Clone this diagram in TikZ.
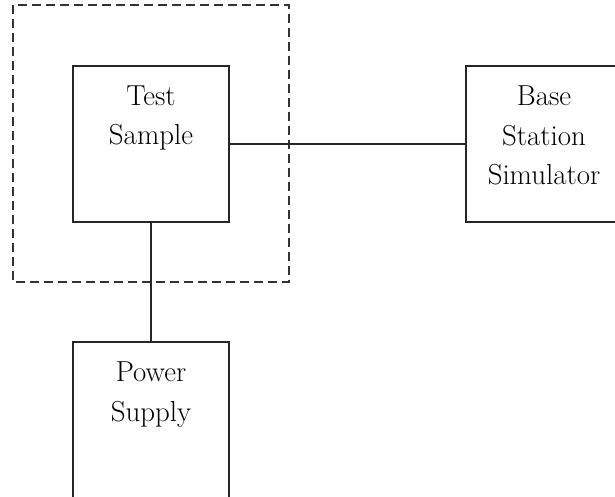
\documentclass[tikz,border=0pt]{standalone}
\usetikzlibrary{positioning}
\begin{document}
\begin{tikzpicture}[x=1bp,y=-1bp,line width=1.1bp,
  block/.style={draw=black!85,minimum width=156bp,minimum height=156bp},
  blocktext/.style={inner sep=0pt,align=center,font=\fontsize{29}{39.5}\selectfont}]
\useasboundingbox (0,0) rectangle (615,497);
\clip (0,0) rectangle (615,497);
\draw[black!80,dash pattern=on 9bp off 5bp] (13,5) rectangle (289,282);
\node[block] (test) at(151,144) {};
\node[block] (base) at(544,144) {};
\node[block] (power) at(151,420) {};
\node[blocktext,below=20bp of test.north] (testtext) {Test\\Sample};
\node[blocktext,below=20bp of base.north] (basetext) {Base\\Station\\Simulator};
\node[blocktext,below=20bp of power.north] (powertext) {Power\\Supply};
\draw[black!85] (test.east) -- (base.west);
\draw[black!85] (test.south) -- (power.north);
\end{tikzpicture}
\end{document}
